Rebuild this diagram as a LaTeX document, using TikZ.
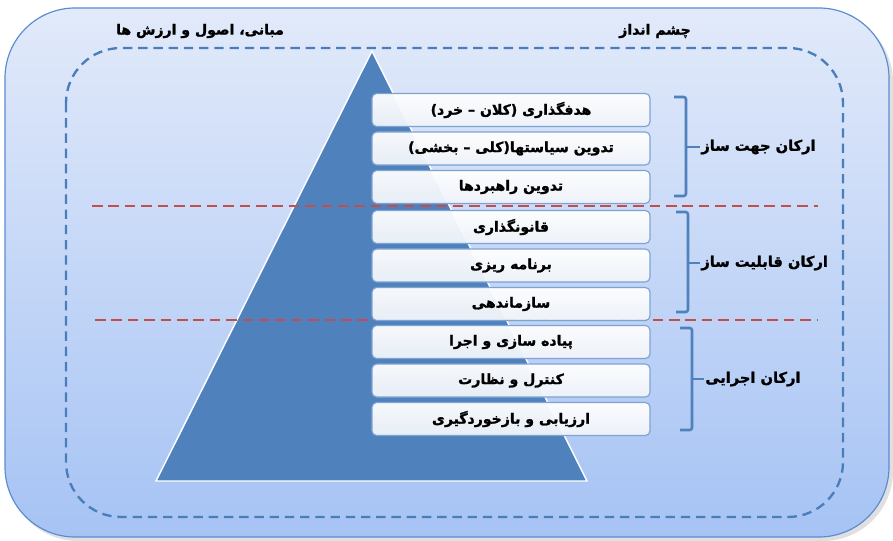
\documentclass[tikz,border=0pt]{standalone}
\usepackage{fontspec}
\newfontfamily\fa[Script=Arabic,BoldFeatures={FakeBold=1.5}]{DejaVu Sans}
\TeXXeTstate=1
\definecolor{outerB}{HTML}{5B8CCF}
\definecolor{outerTop}{HTML}{E2EAFA}
\definecolor{outerBot}{HTML}{A6C3F4}
\definecolor{dashB}{HTML}{4A7EBB}
\definecolor{tri}{HTML}{4F81BD}
\definecolor{redd}{HTML}{C0504D}
\definecolor{boxB}{HTML}{7EA3D3}
\tikzset{
  stepbox/.style={draw=boxB, line width=1pt, rounded corners=4pt, top color=white, bottom color=white!88!boxB, fill opacity=0.95, text opacity=1, minimum width=278*0.03cm, minimum height=33*0.03cm, inner sep=0pt, font=\fa\bfseries\fontsize{12}{14}\selectfont},
  grouplabel/.style={font=\fa\bfseries\fontsize{12.5}{15}\selectfont, inner sep=1pt},
  toplabel/.style={font=\fa\bfseries\fontsize{12}{15}\selectfont, inner sep=1pt},
  bracket/.style={draw=tri, line width=2.2pt, rounded corners=2pt},
  reddash/.style={draw=redd, line width=2pt, dash pattern=on 9pt off 5pt},
}
\begin{document}
\begin{tikzpicture}[x=0.03cm,y=-0.03cm]
\useasboundingbox (0,0) rectangle (893,541);
% outer rounded area
\path[fill=black!35, opacity=0.35, rounded corners=70*0.03cm] (8,12) rectangle (893,541);
\path[top color=outerTop, bottom color=outerBot, draw=outerB, line width=1pt, rounded corners=70*0.03cm] (5,8) rectangle (889,537);
% dashed inner frame
\draw[dashB, line width=2pt, dash pattern=on 8pt off 5pt, rounded corners=55*0.03cm] (66,48) rectangle (843,517);
% top labels
\node[toplabel] (fund) at (200,31) {\beginR مبانی، اصول و ارزش ها\endR};
\node[toplabel] (vision) at (655,31) {\beginR چشم انداز\endR};
% triangle
\coordinate (apex) at (372,51);
\coordinate (bl) at (156,481);
\coordinate (br) at (587,481);
\path[fill=tri, draw=white, line width=1.2pt] (apex) -- (br) -- (bl) -- cycle;
% red dashed separators
\coordinate (r1a) at (92,206); \coordinate (r1b) at (818,206);
\coordinate (r2a) at (95,320); \coordinate (r2b) at (818,320);
\draw[reddash] (r1a) -- (r1b);
\draw[reddash] (r2a) -- (r2b);
% boxes
\node[stepbox] (b1) at (511,110) {\beginR هدفگذاری (کلان – خرد)\endR};
\node[stepbox] (b2) at (511,148.5) {\beginR تدوین سیاستها(کلی – بخشی)\endR};
\node[stepbox] (b3) at (511,187) {\beginR تدوین راهبردها\endR};
\node[stepbox] (b4) at (511,227) {\beginR قانونگذاری\endR};
\node[stepbox] (b5) at (511,265.5) {\beginR برنامه ریزی\endR};
\node[stepbox] (b6) at (511,304) {\beginR سازماندهی\endR};
\node[stepbox] (b7) at (511,342) {\beginR پیاده سازی و اجرا\endR};
\node[stepbox] (b8) at (511,380.5) {\beginR کنترل و نظارت\endR};
\node[stepbox] (b9) at (511,419) {\beginR ارزیابی و بازخوردگیری\endR};
% brackets
\coordinate (k1) at (700,147);
\coordinate (k2) at (700,263);
\coordinate (k3) at (704,379);
\draw[bracket] (674,97) -- (686,97) -- (686,196) -- (674,196);
\draw[bracket] (686,147) -- (k1);
\draw[bracket] (676,212) -- (688,212) -- (688,312) -- (676,312);
\draw[bracket] (688,263) -- (k2);
\draw[bracket] (680,328) -- (692,328) -- (692,430) -- (680,430);
\draw[bracket] (692,379) -- (k3);
% group labels
\node[grouplabel, anchor=west] (g1) at (k1) {\beginR ارکان جهت ساز\endR};
\node[grouplabel, anchor=west] (g2) at (k2) {\beginR ارکان قابلیت ساز\endR};
\node[grouplabel, anchor=west] (g3) at (k3) {\beginR ارکان اجرایی\endR};
\end{tikzpicture}
\end{document}
